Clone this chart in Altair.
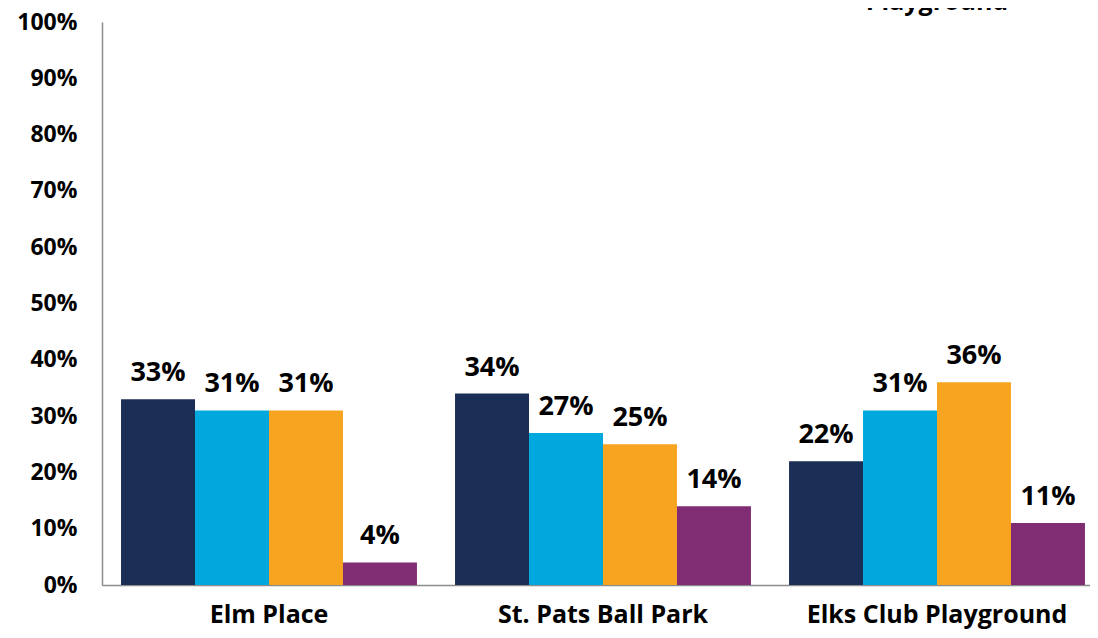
import altair as alt
import pandas as pd

parks = ["Elm Place", "St. Pats Ball Park", "Elks Club Playground"]
series = ["Series 1", "Series 2", "Series 3", "Series 4"]
elm_place = [0.33, 0.31, 0.31, 0.04]
st_pats = [0.34, 0.27, 0.25, 0.14]
elks_club = [0.22, 0.31, 0.36, 0.11]
colors = ["#1b2e55", "#00a8de", "#f7a521", "#812d73"]
y_ticks = [0, 0.1, 0.2, 0.3, 0.4, 0.5, 0.6, 0.7, 0.8, 0.9, 1.0]
top_text = ["Playground"]

rows = []
for park, vals in zip(parks, [elm_place, st_pats, elks_club]):
    for s, v in zip(series, vals):
        rows.append({"park": park, "series": s, "value": v})
df = pd.DataFrame(rows)
top_df = pd.DataFrame({"park": [parks[2]], "t": top_text})

FONT = "Open Sans"

x = alt.X(
    "park:N",
    sort=parks,
    scale=alt.Scale(range=[0, 1002], paddingInner=0.114, paddingOuter=0.057),
    axis=alt.Axis(
        title=None, labelAngle=0, labelFont=FONT, labelFontSize=25,
        labelFontWeight="bold", labelColor="black", ticks=False,
        labelPadding=17, labelLimit=400, domainColor="#8c8c8c", domainWidth=1.5,
    ),
)
xo = alt.XOffset("series:N", sort=series, scale=alt.Scale(paddingInner=0, paddingOuter=0))
y = alt.Y(
    "value:Q",
    scale=alt.Scale(domain=[0, 1], nice=False),
    axis=alt.Axis(
        title=None, format="%", values=y_ticks, grid=False, ticks=False,
        labelPadding=25, labelFont=FONT, labelFontSize=23,
        labelFontWeight="bold", labelColor="black",
        domainColor="#8c8c8c", domainWidth=1.5,
    ),
)
color = alt.Color("series:N", sort=series, scale=alt.Scale(domain=series, range=colors), legend=None)

bars = alt.Chart(df).mark_bar().encode(x=x, xOffset=xo, y=y, color=color)
labels = alt.Chart(df).mark_text(
    font=FONT, fontSize=27, fontWeight="bold", color="black",
    baseline="alphabetic", dy=-18,
).encode(x=x, xOffset=xo, y="value:Q", text=alt.Text("value:Q", format=".0%"))
top = alt.Chart(top_df).mark_text(
    font=FONT, fontSize=25, fontWeight="bold", color="black", baseline="alphabetic",
).encode(x=x, y=alt.value(-12.5), text="t:N")

chart = alt.layer(bars, labels, top).properties(
    width=988, height=563,
    autosize=alt.AutoSizeParams(type="none"),
    padding={"left": 94, "top": 14, "right": 0, "bottom": 47},
).configure_view(stroke=None)

chart.save("out.html", embed_options={"renderer": "svg", "actions": False})
